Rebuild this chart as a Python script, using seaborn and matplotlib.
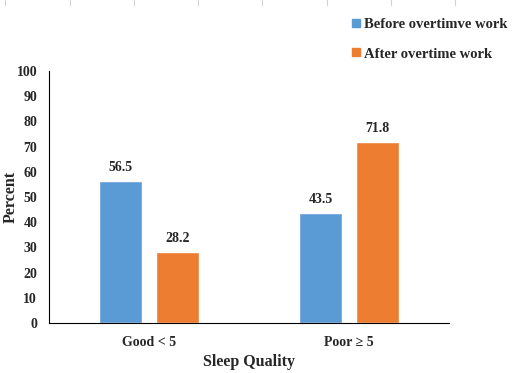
import matplotlib
matplotlib.use('Agg')
import matplotlib.pyplot as plt
import seaborn as sns
import pandas as pd
from matplotlib.lines import Line2D

categories = ['Good < 5', 'Poor \u2265 5']
before = [56.5, 43.5]
after = [28.2, 71.8]
series_names = ['Before overtimve work', 'After overtime work']
colors = ['#5B9BD5', '#ED7D31']

df = pd.DataFrame({
    'quality': categories * 2,
    'percent': before + after,
    'group': [series_names[0]] * 2 + [series_names[1]] * 2,
})

sns.set_style('white')
plt.rcParams['font.family'] = ['Liberation Serif', 'DejaVu Serif']
plt.rcParams['font.weight'] = 'bold'

fig = plt.figure(figsize=(5.13, 3.73), dpi=100)
ax = fig.add_axes([49 / 513, 50 / 373, 400 / 513, 252 / 373])

sns.barplot(data=df, x='quality', y='percent', hue='group', palette=colors,
            width=0.57, gap=0.23, ax=ax, legend=False, saturation=1)

for cont in ax.containers:
    ax.bar_label(cont, fmt='%.1f', padding=5, fontsize=10, fontweight='bold')

ax.set_xlim(-0.5, 1.5)
ax.set_ylim(0, 100)
ax.set_yticks(range(0, 101, 10))
ax.tick_params(axis='both', length=0, labelsize=10)
ax.tick_params(axis='x', pad=9)
ax.tick_params(axis='y', pad=8.5)
for lab in ax.get_xticklabels() + ax.get_yticklabels():
    lab.set_fontweight('bold')
ax.spines['top'].set_visible(False)
ax.spines['right'].set_visible(False)
ax.spines['left'].set_color('black')
ax.spines['bottom'].set_color('black')
ax.set_xlabel('Sleep Quality', fontsize=11.5, fontweight='bold', labelpad=4)
ax.set_ylabel('Percent', fontsize=11.5, fontweight='bold')
ax.yaxis.set_label_coords(-30 / 400, 0.5)

handles = [Line2D([], [], marker='s', linestyle='', color=c, markersize=6) for c in colors]
fig.legend(handles, series_names, loc='upper left', bbox_to_anchor=(336 / 513, 1 - 5 / 373),
           frameon=False, prop={'weight': 'bold', 'size': 10.5}, handletextpad=0.0,
           labelspacing=1.1, handlelength=1.0)

# faint table edges at the top of the image
for xp in [5, 70, 134, 198, 262, 327, 391, 455]:
    fig.add_artist(Line2D([xp / 513, xp / 513], [1, 1 - 5 / 373], color='#d0d0d0', lw=0.8))

fig.savefig('out.png', dpi=100)
